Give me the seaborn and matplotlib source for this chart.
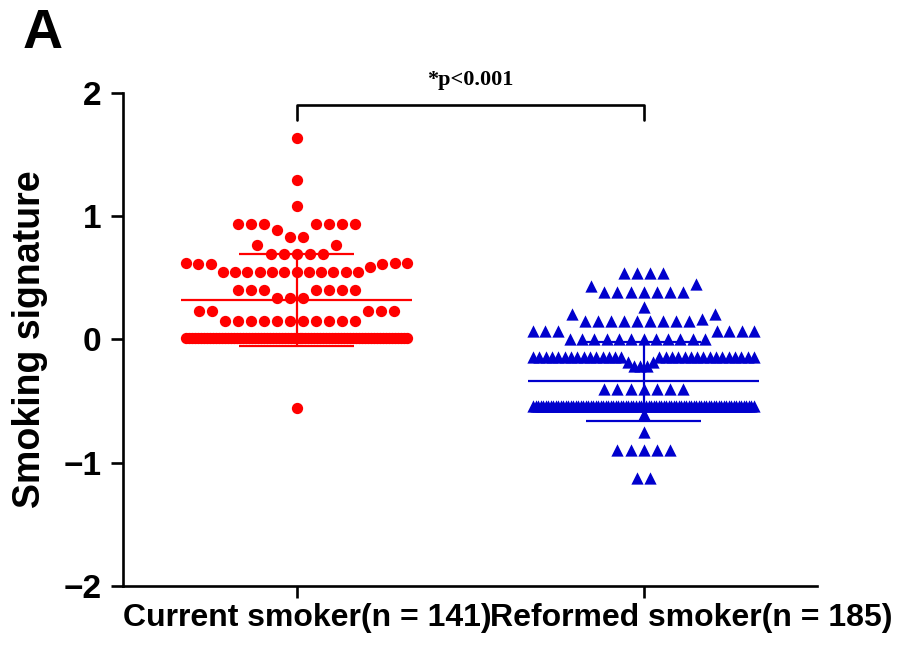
import numpy as np
import pandas as pd
import matplotlib
matplotlib.use("Agg")
import matplotlib.pyplot as plt
import matplotlib.transforms as mtransforms
import seaborn as sns

# values: level -> number of points at that level
groups = ["Current smoker", "Reformed smoker"]
counts = [141, 185]

current_levels = [1.635, 1.29, 1.08, 0.94, 0.89, 0.835, 0.77, 0.694, 0.62, 0.61, 0.59,
                  0.55, 0.40, 0.335, 0.23, 0.153, 0.01, -0.556]
current_n = [1, 1, 1, 7, 1, 2, 2, 5, 3, 3, 1, 12, 7, 3, 5, 11, 75, 1]

reformed_levels = [0.537, 0.448, 0.434, 0.388, 0.266, 0.21, 0.17, 0.15, 0.069, 0.0,
                   -0.14, -0.18, -0.215, -0.404, -0.54, -0.605, -0.75, -0.897, -1.126]
reformed_n = [4, 1, 1, 7, 1, 2, 1, 9, 7, 12, 31, 2, 3, 7, 88, 1, 1, 5, 2]

means = [0.32, -0.34]
sds = [0.375, 0.32]
colors = ["#FF0000", "#0000CD"]
markers = ["o", "^"]
sizes = [66, 78]
pvalue_text = "*p<0.001"


def scatter_x(vals, slot=0.0375, half=0.318, bin_h=0.11):
    # GraphPad-like column scatter: close values share a row, spread from the centre out
    vals = np.sort(np.asarray(vals, dtype=float))
    x = np.zeros(len(vals))
    i = 0
    while i < len(vals):
        j = i
        while j < len(vals) and vals[j] <= vals[i] + bin_h + 1e-9:
            j += 1
        n = j - i
        pos = sorted(np.arange(n) - (n - 1) / 2, key=lambda p: (abs(p), p))
        step = slot if n < 2 else min(slot, 2 * half / (n - 1))
        x[i:j] = np.array(pos) * step
        i = j
    return vals, x


frames = []
for k, (lv, nn) in enumerate([(current_levels, current_n), (reformed_levels, reformed_n)]):
    v, dx = scatter_x(np.repeat(lv, nn))
    frames.append(pd.DataFrame({"group": groups[k], "value": v, "x": k + dx}))
df = pd.concat(frames, ignore_index=True)

sns.set_style("ticks")
plt.rcParams["font.family"] = ["Liberation Sans", "DejaVu Sans"]
plt.rcParams["font.weight"] = "bold"
for key in ["text.color", "axes.labelcolor", "axes.edgecolor", "xtick.color", "ytick.color"]:
    plt.rcParams[key] = "black"

fig = plt.figure(figsize=(9, 6.47), dpi=100)
ax = fig.add_axes([0.1367, 0.0943, 0.7711, 0.762])

for k, g in enumerate(groups):
    sub = df[df["group"] == g]
    sns.scatterplot(data=sub, x="x", y="value", ax=ax, color=colors[k], marker=markers[k],
                    s=sizes[k], linewidth=0, legend=False, zorder=2)
    ax.hlines(means[k], k - 0.333, k + 0.333, color=colors[k], lw=1.6, zorder=3)
    ax.hlines([means[k] - sds[k], means[k] + sds[k]], k - 0.167, k + 0.167,
              color=colors[k], lw=1.6, zorder=3)
    ax.vlines(k, means[k] - sds[k], means[k] + sds[k], color=colors[k], lw=1.6, zorder=3)

ax.set_xlim(-0.5, 1.5)
ax.set_ylim(-2, 2)
ax.set_yticks([-2, -1, 0, 1, 2])
ax.set_xticks([0, 1])
ax.set_xticklabels([f"{g}(n = {n})" for g, n in zip(groups, counts)],
                   fontsize=23, fontweight="bold")
ax.tick_params(axis="y", labelsize=24, width=1.9, length=8.6, pad=7)
ax.tick_params(axis="x", width=1.9, length=8.6, pad=3.5)
for lab in ax.get_yticklabels():
    lab.set_fontweight("bold")
shifts = [11, 48]
for lab, s in zip(ax.get_xticklabels(), shifts):
    lab.set_transform(lab.get_transform() + mtransforms.ScaledTranslation(s / 100, 0, fig.dpi_scale_trans))

ax.set_xlabel("")
ax.set_ylabel("Smoking signature", fontsize=27, fontweight="bold")
ax.yaxis.set_label_coords(-0.108, 0.5)

sns.despine(ax=ax)
for sp in ["left", "bottom"]:
    ax.spines[sp].set_linewidth(1.9)

# significance bracket
ax.plot([0, 0, 1, 1], [1.78, 1.90, 1.90, 1.78], color="black", lw=1.9, clip_on=False)
ax.text(0.5, 2.105, pvalue_text, ha="center", va="center", fontsize=16,
        fontweight="bold", family="Liberation Serif")

fig.text(0.025, 0.926, "A", fontsize=40, fontweight="bold", va="baseline")

fig.savefig("out.png", dpi=100)
